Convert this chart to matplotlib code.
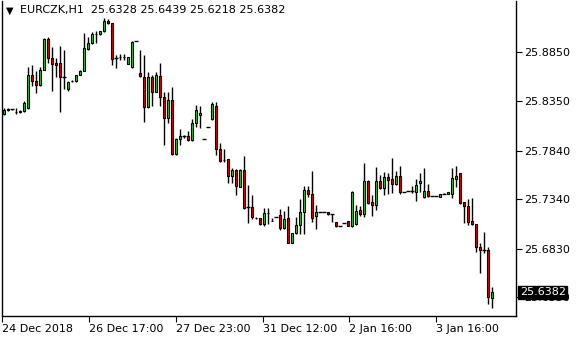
import numpy as np
import matplotlib.pyplot as plt

# EURCZK H1 bars, oldest first
opens = [25.8216, 25.8272, 25.8270, 25.8233, 25.8236, 25.8246, 25.8280, 25.8612, 25.8555, 25.8519,
         25.8673, 25.8984, 25.8788, 25.8745, 25.8743, 25.8599, 25.8470, 25.8552, 25.8555, 25.8614,
         25.8663, 25.8884, 25.8949, 25.9035, 25.9035, 25.9069, 25.9175, 25.9148, 25.8788, 25.8802,
         25.8805, 25.8735, 25.8696, 25.8966, 25.8640, 25.8593, 25.8284, 25.8599, 25.8445, 25.8606,
         25.8387, 25.8174, 25.8360, 25.7806, 25.7958, 25.7994, 25.7986, 25.7945, 25.8128, 25.8210,
         25.7955, 25.8079, 25.8161, 25.8298, 25.7853, 25.7742, 25.7750, 25.7581, 25.7640, 25.7468,
         25.7640, 25.7262, 25.7262, 25.7143, 25.7143, 25.7081, 25.7194, 25.7118, 25.7153, 25.7177,
         25.7040, 25.7143, 25.6894, 25.6989, 25.7074, 25.7205, 25.7434, 25.7390, 25.7166, 25.7205,
         25.7205, 25.7205, 25.7187, 25.7102, 25.7067, 25.7091, 25.7115, 25.7061, 25.7084, 25.7228,
         25.7184, 25.7526, 25.7307, 25.7283, 25.7526, 25.7454, 25.7565, 25.7547, 25.7493, 25.7578,
         25.7416, 25.7420, 25.7420, 25.7416, 25.7503, 25.7365, 25.7424, 25.7375, 25.7375, 25.7365,
         25.7393, 25.7390, 25.7390, 25.7544, 25.7606, 25.7307, 25.7269, 25.7115, 25.7081, 25.6851,
         25.6817, 25.6817, 25.6328]
highs = [25.8277, 25.8277, 25.8272, 25.8274, 25.8257, 25.8349, 25.8699, 25.8720, 25.8658, 25.8699,
         25.8997, 25.9004, 25.8908, 25.8795, 25.8915, 25.8874, 25.8555, 25.8565, 25.8622, 25.8668,
         25.9052, 25.9008, 25.9056, 25.9072, 25.9074, 25.9200, 25.9193, 25.9151, 25.8822, 25.8833,
         25.8833, 25.8802, 25.8966, 25.8966, 25.8874, 25.8822, 25.8648, 25.8617, 25.8644, 25.8737,
         25.8445, 25.8445, 25.8490, 25.7972, 25.8058, 25.7996, 25.8044, 25.8161, 25.8308, 25.8303,
         25.7955, 25.8079, 25.8339, 25.8336, 25.7914, 25.7853, 25.7753, 25.7663, 25.7650, 25.7645,
         25.7784, 25.7485, 25.7382, 25.7159, 25.7146, 25.7246, 25.7252, 25.7141, 25.7153, 25.7235,
         25.7218, 25.7269, 25.6992, 25.7159, 25.7341, 25.7475, 25.7475, 25.7632, 25.7280, 25.7205,
         25.7205, 25.7208, 25.7187, 25.7105, 25.7067, 25.7091, 25.7115, 25.7424, 25.7280, 25.7269,
         25.7715, 25.7532, 25.7382, 25.7667, 25.7588, 25.7616, 25.7606, 25.7760, 25.7629, 25.7681,
         25.7416, 25.7420, 25.7475, 25.7547, 25.7606, 25.7663, 25.7496, 25.7375, 25.7375, 25.7393,
         25.7408, 25.7413, 25.7663, 25.7684, 25.7609, 25.7310, 25.7341, 25.7349, 25.7084, 25.6886,
         25.7005, 25.6845, 25.6439]
lows = [25.8205, 25.8246, 25.8252, 25.8212, 25.8231, 25.8233, 25.8272, 25.8504, 25.8432, 25.8504,
        25.8668, 25.8740, 25.8452, 25.8599, 25.8241, 25.8473, 25.8457, 25.8545, 25.8550, 25.8612,
        25.8658, 25.8879, 25.8935, 25.8946, 25.9033, 25.9064, 25.9146, 25.8720, 25.8686, 25.8771,
        25.8771, 25.8730, 25.8689, 25.8966, 25.8596, 25.8136, 25.8277, 25.8303, 25.8437, 25.8298,
        25.7892, 25.8128, 25.7794, 25.7799, 25.7902, 25.7974, 25.7941, 25.7938, 25.8077, 25.8068,
        25.7955, 25.8079, 25.8154, 25.7794, 25.7725, 25.7725, 25.7506, 25.7503, 25.7382, 25.7465,
        25.7238, 25.7098, 25.7133, 25.7133, 25.7074, 25.7064, 25.7084, 25.7115, 25.7153, 25.7022,
        25.7033, 25.6889, 25.6889, 25.6981, 25.6981, 25.6986, 25.7365, 25.7108, 25.7030, 25.7205,
        25.7205, 25.7182, 25.7108, 25.7058, 25.7067, 25.7091, 25.7064, 25.7050, 25.7079, 25.7166,
        25.7159, 25.7290, 25.7170, 25.7228, 25.7444, 25.7382, 25.7390, 25.7400, 25.7485, 25.7393,
        25.7416, 25.7420, 25.7406, 25.7324, 25.7416, 25.7352, 25.7362, 25.7375, 25.7375, 25.7362,
        25.7391, 25.7388, 25.7355, 25.7468, 25.7295, 25.7091, 25.7074, 25.7074, 25.6799, 25.6583,
        25.6783, 25.6261, 25.6218]
closes = [25.8257, 25.8252, 25.8270, 25.8236, 25.8246, 25.8329, 25.8612, 25.8555, 25.8514, 25.8673,
          25.8984, 25.8792, 25.8735, 25.8720, 25.8596, 25.8599, 25.8548, 25.8558, 25.8617, 25.8661,
          25.8891, 25.8949, 25.9035, 25.9038, 25.9069, 25.9175, 25.9148, 25.8778, 25.8788, 25.8807,
          25.8807, 25.8799, 25.8961, 25.8966, 25.8606, 25.8284, 25.8599, 25.8445, 25.8617, 25.8387,
          25.8171, 25.8360, 25.7806, 25.7955, 25.7989, 25.7994, 25.7945, 25.8128, 25.8252, 25.8229,
          25.7955, 25.8079, 25.8315, 25.7853, 25.7735, 25.7746, 25.7583, 25.7640, 25.7478, 25.7640,
          25.7246, 25.7262, 25.7159, 25.7146, 25.7081, 25.7194, 25.7197, 25.7120, 25.7153, 25.7040,
          25.7133, 25.6894, 25.6989, 25.7074, 25.7205, 25.7434, 25.7390, 25.7143, 25.7205, 25.7205,
          25.7205, 25.7184, 25.7187, 25.7061, 25.7067, 25.7091, 25.7067, 25.7418, 25.7218, 25.7184,
          25.7523, 25.7303, 25.7283, 25.7526, 25.7454, 25.7565, 25.7537, 25.7493, 25.7578, 25.7416,
          25.7416, 25.7420, 25.7420, 25.7485, 25.7526, 25.7424, 25.7375, 25.7375, 25.7375, 25.7390,
          25.7393, 25.7410, 25.7554, 25.7578, 25.7303, 25.7272, 25.7108, 25.7081, 25.6845, 25.6817,
          25.6817, 25.6330, 25.6382]

time_labels = ['24 Dec 2018', '26 Dec 17:00', '27 Dec 23:00', '31 Dec 12:00', '2 Jan 16:00', '3 Jan 16:00']
price_ticks = [25.8850, 25.8350, 25.7840, 25.7340, 25.6830, 25.6330]

o = np.array(opens)
h = np.array(highs)
l = np.array(lows)
c = np.array(closes)
idx = np.arange(len(o))
up = c > o
down = c < o
flat = c == o

fig = plt.figure(figsize=(5.8, 3.4), dpi=100)
ax = fig.add_axes([2 / 580, 24 / 340, 513.5 / 580, 315 / 340])

ax.vlines(idx, l, h, color='black', linewidth=1.0, zorder=1)
w = 0.55
ax.bar(idx[up], c[up] - o[up], bottom=o[up], width=w, color='#2fc62f',
       edgecolor='black', linewidth=0.8, zorder=2)
ax.bar(idx[down], o[down] - c[down], bottom=c[down], width=w, color='#e00000',
       edgecolor='black', linewidth=0.8, zorder=2)
ax.hlines(c[flat], idx[flat] - 0.45, idx[flat] + 0.45, color='black', linewidth=1.0, zorder=2)

ax.set_xlim(-0.5, 127.9)
ax.set_ylim(25.6138, 25.9378)

ax.set_xticks([-0.5, 21.3, 43.0, 64.7, 86.3, 107.9])
ax.set_xticklabels(time_labels, fontsize=8)
for t in ax.get_xticklabels():
    t.set_horizontalalignment('left')
ax.yaxis.tick_right()
ax.set_yticks(price_ticks)
ax.set_yticklabels(['%.4f' % p for p in price_ticks], fontsize=8)
ax.tick_params(axis='both', direction='out', length=4, width=0.8, pad=2)
for s in ax.spines.values():
    s.set_linewidth(1.0)
ax.spines['top'].set_visible(False)

# current price marker on the scale
ax.annotate('%.4f' % closes[-1], xy=(1, closes[-1]), xycoords=('axes fraction', 'data'),
            xytext=(3, 0), textcoords='offset points', va='center', ha='left',
            fontsize=8, color='white', annotation_clip=False, zorder=5,
            bbox=dict(boxstyle='square,pad=0.15', fc='black', ec='black'))

ax.text(0.008, 0.985, '\u25bc', transform=ax.transAxes, fontsize=7, va='top', ha='left')
ax.text(0.035, 0.988, 'EURCZK,H1  %.4f %.4f %.4f %.4f' % (opens[-1], highs[-1], lows[-1], closes[-1]),
        transform=ax.transAxes, fontsize=8, va='top', ha='left')

fig.savefig('out.png', dpi=100)
